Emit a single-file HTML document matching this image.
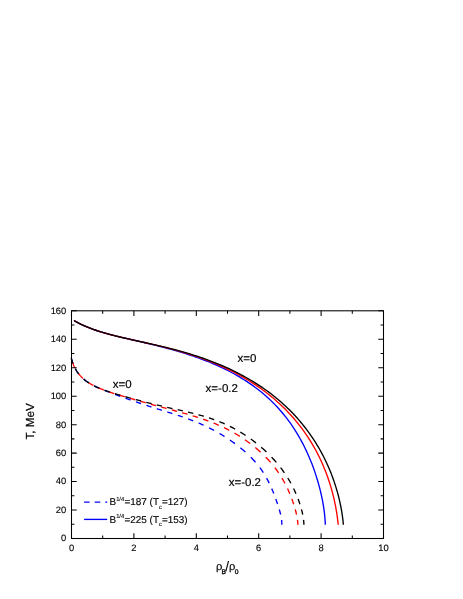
<!DOCTYPE html>
<html><head><meta charset="utf-8"><title>chart</title>
<style>
html,body{margin:0;padding:0;background:#fff;}
body{width:463px;height:599px;overflow:hidden;}
svg{display:block;}
text{filter:grayscale(1);text-rendering:geometricPrecision;font-family:"Liberation Sans",sans-serif;fill:#000;}
.c{fill:none;stroke-width:1.35;stroke-linecap:butt;stroke-linejoin:round;}
.d{stroke-dasharray:5.7 5.3;}
</style></head><body>
<svg width="463" height="599" viewBox="0 0 463 599">
<rect width="463" height="599" fill="#fff"/>
<g class="c">
<path d="M71.33 358.32L71.60 359.32L71.88 360.32L72.19 361.32L72.53 362.32L72.88 363.32M75.36 368.77L75.93 369.77L76.54 370.77L77.19 371.77L77.90 372.77L78.65 373.77M83.71 379.07L84.71 379.90L85.71 380.69L86.71 381.43L87.71 382.13L88.71 382.79M94.16 385.88L95.16 386.37L96.16 386.84L97.16 387.30L98.16 387.74L99.16 388.16M104.61 390.36L105.61 390.76L106.61 391.16L107.61 391.56L108.61 391.96L109.61 392.37M115.06 394.48L116.06 394.84L117.06 395.20L118.06 395.57L119.06 395.93L120.06 396.29M125.50 398.23L126.50 398.59L127.50 398.94L128.50 399.29L129.50 399.64L130.50 399.99M135.95 401.88L136.95 402.22L137.95 402.56L138.95 402.90L139.95 403.24L140.95 403.58M146.40 405.38L147.40 405.71L148.40 406.03L149.40 406.36L150.40 406.68L151.40 407.00M156.85 408.72L157.85 409.03L158.85 409.34L159.85 409.66L160.85 409.97L161.85 410.28M167.30 411.97L168.30 412.28L169.30 412.59L170.30 412.90L171.30 413.22L172.30 413.53M177.74 415.28L178.74 415.61L179.74 415.95L180.74 416.28L181.74 416.62L182.74 416.96M188.19 418.89L189.19 419.26L190.19 419.64L191.19 420.02L192.19 420.40L193.19 420.79M198.64 423.01L199.64 423.44L200.64 423.88L201.64 424.32L202.64 424.77L203.64 425.22M209.09 427.84L210.09 428.34L211.09 428.85L212.09 429.37L213.09 429.90L214.09 430.43M219.54 433.50L220.54 434.09L221.54 434.69L222.54 435.29L223.54 435.91L224.54 436.54M229.98 440.11L230.98 440.80L231.98 441.49L232.98 442.20L233.98 442.92L234.98 443.66M240.43 447.86L241.43 448.68L242.43 449.51L243.43 450.36L244.43 451.22L245.43 452.10M250.88 457.27L251.85 458.27L252.80 459.27L253.72 460.27L254.62 461.27L255.50 462.27M259.87 467.72L260.60 468.72L261.32 469.72L262.01 470.72L262.68 471.72L263.33 472.72M266.60 478.17L267.15 479.17L267.68 480.17L268.20 481.17L268.71 482.17L269.20 483.17M271.70 488.61L272.13 489.61L272.55 490.61L272.96 491.61L273.37 492.61L273.76 493.61M275.81 499.06L276.17 500.06L276.52 501.06L276.87 502.06L277.22 503.06L277.55 504.06M279.29 509.51L279.58 510.51L279.86 511.51L280.13 512.51L280.39 513.51L280.63 514.51M281.59 519.96L281.69 520.93L281.76 521.90L281.80 522.86L281.81 523.83L281.80 524.80" stroke="#0000ff"/>
<path d="M72.69 362.80L73.09 363.85L73.51 364.90L73.96 365.95L74.45 367.00L74.98 368.05M78.25 373.25L79.07 374.30L79.96 375.35L80.92 376.40L81.95 377.44L83.00 378.43M88.20 382.45L89.25 383.12L90.30 383.77L91.35 384.38L92.40 384.96L93.45 385.51M98.64 387.94L99.69 388.38L100.74 388.81L101.79 389.23L102.84 389.63L103.89 390.03M109.09 391.88L110.14 392.24L111.19 392.59L112.24 392.93L113.29 393.27L114.34 393.60M119.54 395.20L120.59 395.51L121.64 395.82L122.69 396.14L123.74 396.44L124.79 396.75M129.99 398.27L131.04 398.57L132.09 398.87L133.14 399.18L134.19 399.48L135.24 399.78M140.44 401.27L141.49 401.57L142.54 401.86L143.59 402.16L144.64 402.46L145.69 402.75M150.88 404.21L151.93 404.50L152.98 404.79L154.03 405.09L155.08 405.37L156.13 405.66M161.33 407.08L162.38 407.37L163.43 407.65L164.48 407.94L165.53 408.22L166.58 408.51M171.78 409.91L172.83 410.19L173.88 410.48L174.93 410.76L175.98 411.05L177.03 411.33M182.23 412.76L183.28 413.06L184.33 413.35L185.38 413.65L186.43 413.95L187.48 414.25M192.68 415.79L193.73 416.11L194.78 416.43L195.83 416.76L196.88 417.09L197.93 417.42M203.12 419.15L204.17 419.52L205.22 419.89L206.27 420.26L207.32 420.64L208.37 421.03M213.57 423.05L214.62 423.48L215.67 423.91L216.72 424.35L217.77 424.80L218.82 425.26M224.02 427.66L225.07 428.17L226.12 428.69L227.17 429.22L228.22 429.76L229.27 430.30M234.47 433.16L235.52 433.77L236.57 434.39L237.62 435.02L238.67 435.67L239.72 436.32M244.92 439.73L245.97 440.46L247.02 441.20L248.07 441.95L249.12 442.72L250.17 443.50M255.36 447.60L256.41 448.47L257.46 449.37L258.51 450.28L259.56 451.21L260.61 452.16M265.80 457.18L266.81 458.23L267.80 459.28L268.76 460.33L269.71 461.38L270.63 462.43M274.86 467.63L275.66 468.68L276.43 469.73L277.19 470.78L277.93 471.83L278.65 472.88M281.96 478.08L282.58 479.13L283.19 480.18L283.78 481.23L284.35 482.28L284.92 483.33M287.51 488.53L287.99 489.58L288.47 490.63L288.93 491.68L289.38 492.73L289.83 493.78M291.87 498.97L292.25 500.02L292.63 501.07L292.99 502.12L293.35 503.17L293.69 504.22M295.26 509.42L295.55 510.47L295.82 511.52L296.08 512.57L296.33 513.62L296.56 514.67M297.48 519.87L297.60 520.86L297.71 521.84L297.79 522.83L297.86 523.81L297.90 524.80" stroke="#ff0000"/>
<path d="M71.30 358.20L71.58 359.25L71.88 360.30L72.20 361.35L72.55 362.40L72.93 363.45M75.29 368.65L75.89 369.70L76.52 370.75L77.21 371.80L77.95 372.85L78.75 373.90M83.59 378.96L84.64 379.85L85.69 380.67L86.74 381.45L87.79 382.18L88.84 382.87M94.04 385.82L95.09 386.33L96.14 386.83L97.19 387.31L98.24 387.77L99.29 388.22M104.49 390.23L105.54 390.61L106.59 390.97L107.64 391.33L108.69 391.69L109.74 392.03M114.94 393.67L115.99 393.99L117.04 394.30L118.09 394.61L119.14 394.92L120.19 395.23M125.38 396.72L126.43 397.01L127.48 397.31L128.53 397.60L129.58 397.89L130.63 398.18M135.83 399.60L136.88 399.88L137.93 400.16L138.98 400.44L140.03 400.72L141.08 401.00M146.28 402.35L147.33 402.62L148.38 402.88L149.43 403.15L150.48 403.41L151.53 403.67M156.73 404.94L157.78 405.19L158.83 405.44L159.88 405.68L160.93 405.93L161.98 406.17M167.18 407.36L168.23 407.60L169.28 407.84L170.33 408.07L171.38 408.31L172.43 408.54M177.62 409.70L178.67 409.94L179.72 410.18L180.77 410.41L181.82 410.65L182.87 410.89M188.07 412.10L189.12 412.35L190.17 412.61L191.22 412.86L192.27 413.12L193.32 413.39M198.52 414.75L199.57 415.04L200.62 415.33L201.67 415.63L202.72 415.93L203.77 416.24M208.97 417.86L210.02 418.21L211.07 418.57L212.12 418.93L213.17 419.30L214.22 419.68M219.42 421.67L220.47 422.09L221.52 422.53L222.57 422.98L223.62 423.43L224.67 423.90M229.86 426.35L230.91 426.88L231.96 427.41L233.01 427.96L234.06 428.52L235.11 429.09M240.31 432.08L241.36 432.72L242.41 433.37L243.46 434.04L244.51 434.71L245.56 435.40M250.76 439.00L251.81 439.76L252.86 440.54L253.91 441.34L254.96 442.15L256.01 442.97M261.21 447.26L262.26 448.17L263.31 449.10L264.36 450.05L265.41 451.02L266.46 452.01M271.60 457.13L272.59 458.18L273.56 459.23L274.51 460.28L275.45 461.33L276.36 462.38M280.59 467.58L281.39 468.63L282.18 469.68L282.94 470.73L283.69 471.78L284.43 472.83M287.82 478.02L288.46 479.07L289.08 480.12L289.69 481.17L290.29 482.22L290.87 483.27M293.56 488.47L294.07 489.52L294.56 490.57L295.04 491.62L295.51 492.67L295.97 493.72M298.08 498.92L298.47 499.97L298.85 501.02L299.22 502.07L299.58 503.12L299.93 504.17M301.49 509.37L301.76 510.42L302.03 511.47L302.27 512.52L302.51 513.57L302.73 514.62M303.56 519.82L303.67 520.81L303.75 521.81L303.82 522.81L303.87 523.80L303.90 524.80" stroke="#000"/>
</g>
<g class="c">
<path d="M74.00 320.50L76.30 321.82L78.64 323.08L81.01 324.27L83.42 325.39L85.85 326.46L88.31 327.48L90.79 328.44L93.29 329.36L95.80 330.24L98.33 331.08L100.87 331.88L103.42 332.65L105.98 333.38L108.55 334.09L111.12 334.78L113.70 335.45L116.28 336.09L118.86 336.72L121.45 337.33L124.04 337.94L126.62 338.53L129.21 339.12L131.80 339.72L134.39 340.31L136.97 340.91L139.56 341.51L142.14 342.12L144.73 342.73L147.31 343.35L149.89 343.97L152.47 344.59L155.04 345.21L157.62 345.85L160.19 346.50L162.76 347.15L165.33 347.82L167.89 348.50L170.46 349.20L173.02 349.91L175.57 350.63L178.13 351.37L180.68 352.13L183.22 352.90L185.76 353.69L188.30 354.50L190.83 355.33L193.36 356.18L195.88 357.05L198.39 357.94L200.90 358.85L203.40 359.79L205.89 360.75L208.37 361.73L210.85 362.73L213.31 363.77L215.76 364.82L218.20 365.91L220.63 367.02L223.04 368.16L225.45 369.32L227.83 370.52L230.20 371.74L232.56 372.99L234.89 374.27L237.21 375.58L239.51 376.93L241.79 378.30L244.05 379.70L246.29 381.14L248.51 382.61L250.70 384.11L252.87 385.64L255.02 387.20L257.14 388.80L259.23 390.43L261.30 392.09L263.33 393.78L265.34 395.51L267.32 397.27L269.28 399.06L271.20 400.88L273.09 402.74L274.95 404.63L276.77 406.55L278.57 408.50L280.33 410.48L282.06 412.49L283.75 414.52L285.41 416.59L287.04 418.69L288.64 420.82L290.20 422.97L291.72 425.15L293.21 427.35L294.67 429.58L296.09 431.83L297.48 434.11L298.83 436.41L300.15 438.72L301.44 441.06L302.69 443.42L303.91 445.80L305.09 448.19L306.24 450.60L307.36 453.03L308.45 455.47L309.50 457.93L310.52 460.39L311.51 462.87L312.47 465.36L313.40 467.86L314.29 470.36L315.15 472.88L315.99 475.40L316.79 477.93L317.56 480.47L318.30 483.01L319.01 485.56L319.68 488.12L320.33 490.68L320.94 493.24L321.52 495.81L322.06 498.39L322.57 500.98L323.04 503.57L323.48 506.18L323.87 508.79L324.23 511.42L324.54 514.05L324.80 516.71L325.02 519.38L325.19 522.08L325.30 524.80" stroke="#0000ff"/>
<path d="M74.00 320.50L76.37 321.86L78.78 323.15L81.21 324.37L83.68 325.51L86.17 326.60L88.68 327.63L91.22 328.61L93.77 329.53L96.33 330.42L98.92 331.26L101.51 332.07L104.12 332.85L106.73 333.59L109.36 334.31L111.99 335.01L114.63 335.68L117.27 336.33L119.92 336.97L122.57 337.60L125.23 338.21L127.88 338.82L130.54 339.42L133.20 340.01L135.86 340.61L138.52 341.20L141.17 341.79L143.83 342.39L146.49 342.99L149.14 343.59L151.80 344.19L154.45 344.81L157.09 345.43L159.74 346.06L162.38 346.70L165.02 347.36L167.65 348.02L170.29 348.70L172.91 349.40L175.54 350.11L178.16 350.83L180.77 351.58L183.38 352.34L185.98 353.12L188.58 353.92L191.17 354.74L193.76 355.58L196.33 356.44L198.91 357.32L201.47 358.22L204.03 359.15L206.58 360.10L209.12 361.07L211.65 362.07L214.17 363.09L216.68 364.14L219.18 365.22L221.67 366.32L224.15 367.44L226.62 368.59L229.08 369.77L231.52 370.98L233.95 372.21L236.36 373.47L238.76 374.76L241.14 376.08L243.51 377.43L245.86 378.80L248.20 380.21L250.51 381.64L252.81 383.11L255.09 384.60L257.35 386.12L259.59 387.67L261.80 389.25L264.00 390.86L266.17 392.50L268.32 394.17L270.45 395.87L272.55 397.60L274.62 399.36L276.67 401.15L278.70 402.96L280.69 404.81L282.66 406.69L284.61 408.59L286.52 410.52L288.40 412.48L290.25 414.47L292.08 416.49L293.87 418.53L295.63 420.60L297.36 422.70L299.06 424.82L300.72 426.97L302.36 429.15L303.95 431.35L305.52 433.57L307.05 435.82L308.55 438.09L310.01 440.38L311.44 442.70L312.83 445.04L314.18 447.40L315.51 449.78L316.79 452.18L318.04 454.59L319.26 457.03L320.44 459.48L321.58 461.96L322.68 464.44L323.75 466.95L324.79 469.46L325.79 472.00L326.75 474.54L327.68 477.10L328.57 479.67L329.42 482.26L330.24 484.85L331.02 487.46L331.77 490.07L332.48 492.70L333.15 495.33L333.79 497.97L334.39 500.62L334.96 503.28L335.49 505.95L335.99 508.62L336.45 511.30L336.87 513.98L337.26 516.68L337.61 519.38L337.92 522.09L338.20 524.80" stroke="#ff0000"/>
<path d="M74.00 320.50L76.38 321.87L78.81 323.17L81.26 324.39L83.75 325.54L86.26 326.64L88.80 327.68L91.36 328.66L93.94 329.60L96.54 330.49L99.15 331.34L101.78 332.15L104.42 332.94L107.07 333.69L109.73 334.41L112.39 335.11L115.06 335.79L117.74 336.45L120.42 337.09L123.11 337.72L125.79 338.34L128.48 338.95L131.17 339.55L133.87 340.15L136.56 340.74L139.25 341.33L141.94 341.92L144.63 342.51L147.32 343.11L150.00 343.71L152.68 344.31L155.37 344.92L158.05 345.54L160.72 346.17L163.39 346.81L166.06 347.46L168.73 348.12L171.39 348.80L174.05 349.49L176.71 350.19L179.36 350.91L182.00 351.65L184.64 352.40L187.28 353.18L189.91 353.97L192.53 354.78L195.15 355.61L197.77 356.46L200.37 357.33L202.97 358.23L205.56 359.14L208.15 360.08L210.73 361.05L213.29 362.03L215.85 363.04L218.40 364.08L220.94 365.14L223.47 366.23L225.99 367.34L228.50 368.48L230.99 369.65L233.48 370.84L235.95 372.06L238.40 373.31L240.84 374.59L243.27 375.89L245.68 377.22L248.08 378.59L250.45 379.98L252.82 381.40L255.16 382.85L257.48 384.32L259.79 385.83L262.07 387.37L264.33 388.94L266.58 390.54L268.80 392.16L270.99 393.82L273.17 395.51L275.32 397.22L277.44 398.97L279.54 400.75L281.61 402.56L283.66 404.39L285.68 406.26L287.67 408.15L289.63 410.08L291.57 412.03L293.47 414.01L295.35 416.02L297.19 418.06L299.01 420.12L300.79 422.21L302.54 424.33L304.26 426.48L305.94 428.65L307.60 430.85L309.21 433.07L310.80 435.31L312.35 437.59L313.87 439.88L315.35 442.20L316.80 444.54L318.21 446.90L319.59 449.28L320.93 451.68L322.24 454.11L323.51 456.55L324.74 459.01L325.94 461.49L327.10 463.98L328.23 466.49L329.32 469.02L330.37 471.57L331.39 474.12L332.37 476.70L333.31 479.28L334.21 481.88L335.08 484.49L335.91 487.11L336.70 489.74L337.46 492.38L338.18 495.04L338.85 497.70L339.49 500.37L340.09 503.05L340.65 505.74L341.17 508.44L341.65 511.14L342.09 513.86L342.48 516.58L342.83 519.31L343.14 522.05L343.40 524.80" stroke="#000"/>
</g>
<rect x="71.5" y="310.8" width="312.0" height="227.7" fill="none" stroke="#000" stroke-width="1.05"/>
<path d="M71.50 538.50v-5.2M71.50 310.80v5.2M102.70 538.50v-2.9M102.70 310.80v2.9M133.90 538.50v-5.2M133.90 310.80v5.2M165.10 538.50v-2.9M165.10 310.80v2.9M196.30 538.50v-5.2M196.30 310.80v5.2M227.50 538.50v-2.9M227.50 310.80v2.9M258.70 538.50v-5.2M258.70 310.80v5.2M289.90 538.50v-2.9M289.90 310.80v2.9M321.10 538.50v-5.2M321.10 310.80v5.2M352.30 538.50v-2.9M352.30 310.80v2.9M383.50 538.50v-5.2M383.50 310.80v5.2M71.50 538.50h5.2M383.50 538.50h-5.2M71.50 524.27h2.9M383.50 524.27h-2.9M71.50 510.04h5.2M383.50 510.04h-5.2M71.50 495.81h2.9M383.50 495.81h-2.9M71.50 481.57h5.2M383.50 481.57h-5.2M71.50 467.34h2.9M383.50 467.34h-2.9M71.50 453.11h5.2M383.50 453.11h-5.2M71.50 438.88h2.9M383.50 438.88h-2.9M71.50 424.65h5.2M383.50 424.65h-5.2M71.50 410.42h2.9M383.50 410.42h-2.9M71.50 396.19h5.2M383.50 396.19h-5.2M71.50 381.96h2.9M383.50 381.96h-2.9M71.50 367.73h5.2M383.50 367.73h-5.2M71.50 353.49h2.9M383.50 353.49h-2.9M71.50 339.26h5.2M383.50 339.26h-5.2M71.50 325.03h2.9M383.50 325.03h-2.9M71.50 310.80h5.2M383.50 310.80h-5.2" stroke="#000" stroke-width="1.05" fill="none"/>
<g font-size="9.4" stroke="#000" stroke-width="0.12"><text x="71.5" y="550.9" text-anchor="middle">0</text><text x="133.9" y="550.9" text-anchor="middle">2</text><text x="196.3" y="550.9" text-anchor="middle">4</text><text x="258.7" y="550.9" text-anchor="middle">6</text><text x="321.1" y="550.9" text-anchor="middle">8</text><text x="383.5" y="550.9" text-anchor="middle">10</text><text x="66.3" y="541.4" text-anchor="end">0</text><text x="66.3" y="512.9" text-anchor="end">20</text><text x="66.3" y="484.4" text-anchor="end">40</text><text x="66.3" y="456.0" text-anchor="end">60</text><text x="66.3" y="427.5" text-anchor="end">80</text><text x="66.3" y="399.0" text-anchor="end">100</text><text x="66.3" y="370.6" text-anchor="end">120</text><text x="66.3" y="342.1" text-anchor="end">140</text><text x="66.3" y="313.7" text-anchor="end">160</text></g>
<g font-size="11.5" stroke="#000" stroke-width="0.18">
<text x="237.6" y="362">x=0</text>
<text x="205.6" y="391.6">x=-0.2</text>
<text x="112.7" y="388.4">x=0</text>
<text x="228.7" y="486.2">x=-0.2</text>
</g>
<g font-size="11.7" stroke="#000" stroke-width="0.2">
<text transform="translate(33.8,439.5) rotate(-90)">T, MeV</text>
</g>
<text font-size="11.1" stroke="#000" stroke-width="0.15"><tspan x="215.9" y="569.5">ρ</tspan><tspan x="221.4" y="573.5" font-size="6.7" stroke-width="0.3">B</tspan><tspan x="225.2" y="571.4" font-size="13.8" stroke-width="0.1">/</tspan><tspan x="228.9" y="569.5">ρ</tspan><tspan x="234.8" y="573.6" font-size="6.7" stroke-width="0.3">0</tspan></text>
<path d="M84.1 502.1h23.1" class="c" stroke-dasharray="5.5 5.1" stroke="#0000ff"/>
<path d="M84.1 519.4h23.1" class="c" stroke="#0000ff"/>
<g font-size="9.93" stroke="#000" stroke-width="0.15">
<text x="109.6" y="505.3">B<tspan font-size="5.8" dy="-4.6" dx="-0.1" stroke-width="0.12">1/4</tspan><tspan dy="4.6" dx="0.3">=187 (T</tspan><tspan font-size="6" dy="3.7" stroke-width="0.1">c</tspan><tspan dy="-3.7">=127)</tspan></text>
<text x="109.6" y="522.7">B<tspan font-size="5.8" dy="-4.6" dx="-0.1" stroke-width="0.12">1/4</tspan><tspan dy="4.6" dx="0.3">=225 (T</tspan><tspan font-size="6" dy="3.7" stroke-width="0.1">c</tspan><tspan dy="-3.7">=153)</tspan></text>
</g>
</svg>
</body></html>
